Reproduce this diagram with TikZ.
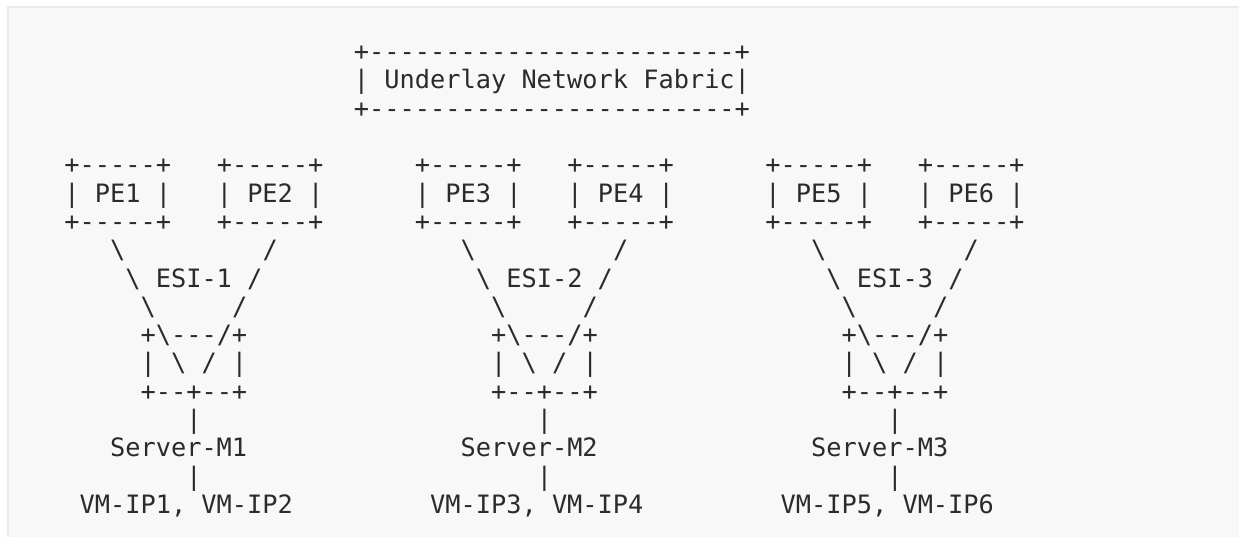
\documentclass[tikz,border=0pt]{standalone}
\usepackage{fontspec}
\setmonofont[WordSpace={1,0,0}]{DejaVu Sans Mono}
\definecolor{panelfill}{HTML}{F8F8F8}
\definecolor{panelrule}{HTML}{EBEBEB}
\definecolor{ink}{HTML}{2B2B2B}
\newcommand{\bs}{\textbackslash}
\begin{document}
\begin{tikzpicture}[x=1pt,y=1pt,
  asc/.style={anchor=base west,inner sep=0pt,outer sep=0pt,text=ink,
    font=\ttfamily\fontsize{25.3}{28.3}\selectfont}]
\useasboundingbox (0,0) rectangle (1239,537);
\fill[white] (0,0) rectangle (1239,537);
\fill[panelfill] (8,0) rectangle (1239,530);
\draw[panelrule,line width=2pt] (8,0) -- (8,530) -- (1239,530);
% column c -> x = 64.4 + 15.24 c ; line l -> y = 537 - (60.7 + 28.3 l)
\def\cx#1{64.4+15.24*(#1)}
\def\ly#1{476.3-28.3*(#1)}
% underlay fabric box
\node[asc] (fabtop) at ({\cx{19}},{\ly{0}}) {+------------------------+};
\node[asc] (fab)    at ({\cx{19}},{\ly{1}}) {|\ Underlay\ Network\ Fabric|};
\node[asc] (fabbot) at ({\cx{19}},{\ly{2}}) {+------------------------+};
\foreach \g/\pa/\pb/\k in {0/1/2/1,23/3/4/2,46/5/6/3}{
  \node[asc] (pe\pa top) at ({\cx{\g}},{\ly{4}}) {+-----+};
  \node[asc] (pe\pb top) at ({\cx{\g+10}},{\ly{4}}) {+-----+};
  \node[asc] (pe\pa) at ({\cx{\g}},{\ly{5}}) {|\ PE\pa\ |};
  \node[asc] (pe\pb) at ({\cx{\g+10}},{\ly{5}}) {|\ PE\pb\ |};
  \node[asc] (pe\pa bot) at ({\cx{\g}},{\ly{6}}) {+-----+};
  \node[asc] (pe\pb bot) at ({\cx{\g+10}},{\ly{6}}) {+-----+};
  \node[asc] (la\k) at ({\cx{\g+3}},{\ly{7}}) {\bs};
  \node[asc] (ra\k) at ({\cx{\g+13}},{\ly{7}}) {/};
  \node[asc] (esi\k) at ({\cx{\g+4}},{\ly{8}}) {\bs\ ESI-\k\ /};
  \node[asc] (lb\k) at ({\cx{\g+5}},{\ly{9}}) {\bs};
  \node[asc] (rb\k) at ({\cx{\g+11}},{\ly{9}}) {/};
  \node[asc] (lagtop\k) at ({\cx{\g+5}},{\ly{10}}) {+\bs---/+};
  \node[asc] (lag\k) at ({\cx{\g+5}},{\ly{11}}) {|\ \bs\ /\ |};
  \node[asc] (lagbot\k) at ({\cx{\g+5}},{\ly{12}}) {+--+--+};
  \node[asc] (va\k) at ({\cx{\g+8}},{\ly{13}}) {|};
  \node[asc] (srv\k) at ({\cx{\g+3}},{\ly{14}}) {Server-M\k};
  \node[asc] (vb\k) at ({\cx{\g+8}},{\ly{15}}) {|};
  \node[asc] (vm\k) at ({\cx{\g+1}},{\ly{16}}) {VM-IP\pa,\ VM-IP\pb};
}
\end{tikzpicture}
\end{document}
